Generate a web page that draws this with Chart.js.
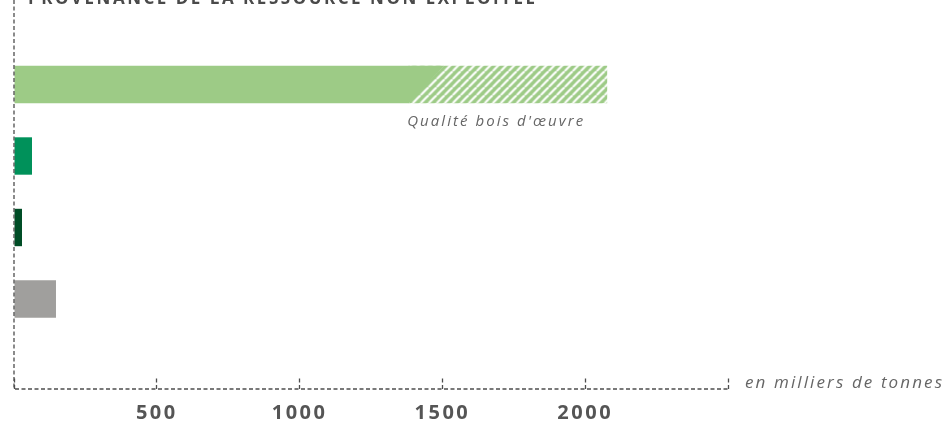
<!DOCTYPE html>
<html><head><meta charset="utf-8">
<script src="https://cdn.jsdelivr.net/npm/chart.js@4"></script>
<style>html,body{margin:0;padding:0;background:#fff;overflow:hidden}</style>
</head><body>
<canvas id="c" width="947" height="423"></canvas>
<script>
// ---- data ----
const chartTitle = 'PROVENANCE DE LA RESSOURCE NON EXPLOITÉE';
const unitLabel = 'en milliers de tonnes';
const rowIndex = [0, 1, 2, 3];
const solidValues = [1385, 63, 28, 147];
const hatchValues = [692, 0, 0, 0];
const hatchLabels = ["Qualité bois d'œuvre", '', '', ''];
const barColors = ['#9dcb86', '#00915a', '#004d26', '#a09f9d'];
const xTickValues = [0, 500, 1000, 1500, 2000, 2500];
const xTickLabels = ['', '500', '1000', '1500', '2000', ''];

// ---- hatch pattern ----
const P = 8;
const tile = document.createElement('canvas');
tile.width = P; tile.height = P;
const tctx = tile.getContext('2d');
tctx.fillStyle = barColors[0];
tctx.fillRect(0, 0, P, P);
tctx.strokeStyle = '#ffffff';
tctx.lineWidth = 2.2;
for (const c of [0, P, 2 * P]) {
  tctx.beginPath(); tctx.moveTo(c, 0); tctx.lineTo(c - P, P); tctx.stroke();
}
const ctx = document.getElementById('c').getContext('2d');
const hatch = ctx.createPattern(tile, 'repeat');

const AXIS_COLOR = '#4d4d4d';
const AXIS_DASH = [4, 2.5];

function fitText(c, text, x, y, width, align) {
  c.letterSpacing = '0px';
  const w = c.measureText(text).width;
  const sp = (width - w) / Math.max(1, text.length - 1);
  c.letterSpacing = sp + 'px';
  c.textAlign = 'left';
  const x0 = align === 'right' ? x - width : (align === 'center' ? x - width / 2 : x);
  c.fillText(text, x0, y);
  c.letterSpacing = '0px';
}

const decor = {
  id: 'decor',
  beforeDraw(chart) { chart.ctx.letterSpacing = '2.5px'; },
  beforeDatasetsDraw(chart) {
    const el = chart.getDatasetMeta(1).data[0];
    if (el && hatch.setTransform) {
      hatch.setTransform(new DOMMatrix().translateSelf(el.base + 3, el.y + el.height / 2));
    }
  },
  afterDatasetsDraw(chart) {
    const c = chart.ctx;
    const a = chart.chartArea;
    const el = chart.getDatasetMeta(1).data[0];
    const top = el.y - el.height / 2, bot = el.y + el.height / 2;
    c.save();
    c.fillStyle = barColors[0];
    c.beginPath();
    c.moveTo(el.base - 1, top);
    c.lineTo(el.base + el.height * 0.92, top);
    c.lineTo(el.base - 1, bot);
    c.closePath();
    c.fill();
    c.fillStyle = '#666666';
    c.font = 'italic 15px "Open Sans"';
    c.textBaseline = 'middle';
    fitText(c, hatchLabels[0], el.x - 24, bot + 19, 176, 'right');
    // dashed axis lines
    c.strokeStyle = AXIS_COLOR;
    c.lineWidth = 1.3;
    c.setLineDash(AXIS_DASH);
    c.beginPath();
    c.moveTo(a.left, 0);
    c.lineTo(a.left, a.bottom);
    c.lineTo(a.right, a.bottom);
    c.stroke();
    c.restore();
  },
  afterDraw(chart) {
    const c = chart.ctx;
    const a = chart.chartArea;
    c.save();
    c.fillStyle = '#4a4a4a';
    c.font = 'bold 17px "Open Sans"';
    c.textBaseline = 'alphabetic';
    fitText(c, chartTitle, 28, 4, 507, 'left');
    c.fillStyle = '#666666';
    c.font = 'italic 17px "Open Sans"';
    c.textBaseline = 'alphabetic';
    fitText(c, unitLabel, a.right + 17, a.bottom - 1, 197, 'left');
    c.restore();
  }
};

new Chart(ctx, {
  type: 'bar',
  data: {
    datasets: [
      {
        data: rowIndex.map((r, i) => ({ x: solidValues[i], y: r })),
        backgroundColor: barColors,
        borderWidth: 0,
        categoryPercentage: 1,
        barPercentage: 0.523
      },
      {
        data: rowIndex.map((r, i) => ({ x: hatchValues[i], y: r })),
        backgroundColor: hatch,
        borderWidth: 0,
        categoryPercentage: 1,
        barPercentage: 0.523
      }
    ]
  },
  options: {
    indexAxis: 'y',
    responsive: false,
    animation: false,
    events: [],
    layout: { padding: { left: 14, right: 219, top: 0, bottom: 0 } },
    plugins: { legend: { display: false }, tooltip: { enabled: false }, title: { display: false } },
    scales: {
      x: {
        type: 'linear',
        stacked: true,
        min: 0, max: 2500,
        afterBuildTicks: (s) => { s.ticks = xTickValues.map(v => ({ value: v })); },
        afterFit: (s) => { s.height = 34; s.paddingLeft = 0; s.paddingRight = 0; },
        ticks: {
          padding: 24,
          color: '#555555',
          font: { family: '"Open Sans"', size: 20, weight: 'bold' },
          maxRotation: 0,
          autoSkip: false,
          callback: (v) => xTickLabels[xTickValues.indexOf(v)] || ''
        },
        grid: {
          drawOnChartArea: false,
          drawTicks: true,
          tickLength: -12,
          tickColor: AXIS_COLOR,
          tickWidth: 1.3,
          tickBorderDash: AXIS_DASH
        },
        border: { display: false }
      },
      y: {
        type: 'linear',
        stacked: true,
        reverse: true,
        offset: false,
        min: -1.1818,
        max: 4.2588,
        afterBuildTicks: (s) => { s.ticks = rowIndex.map(v => ({ value: v })); },
        afterFit: (s) => { s.width = 0; },
        ticks: { display: false },
        grid: { display: false, drawTicks: false, offset: false },
        border: { display: false }
      }
    }
  },
  plugins: [decor]
});
</script>
</body></html>
